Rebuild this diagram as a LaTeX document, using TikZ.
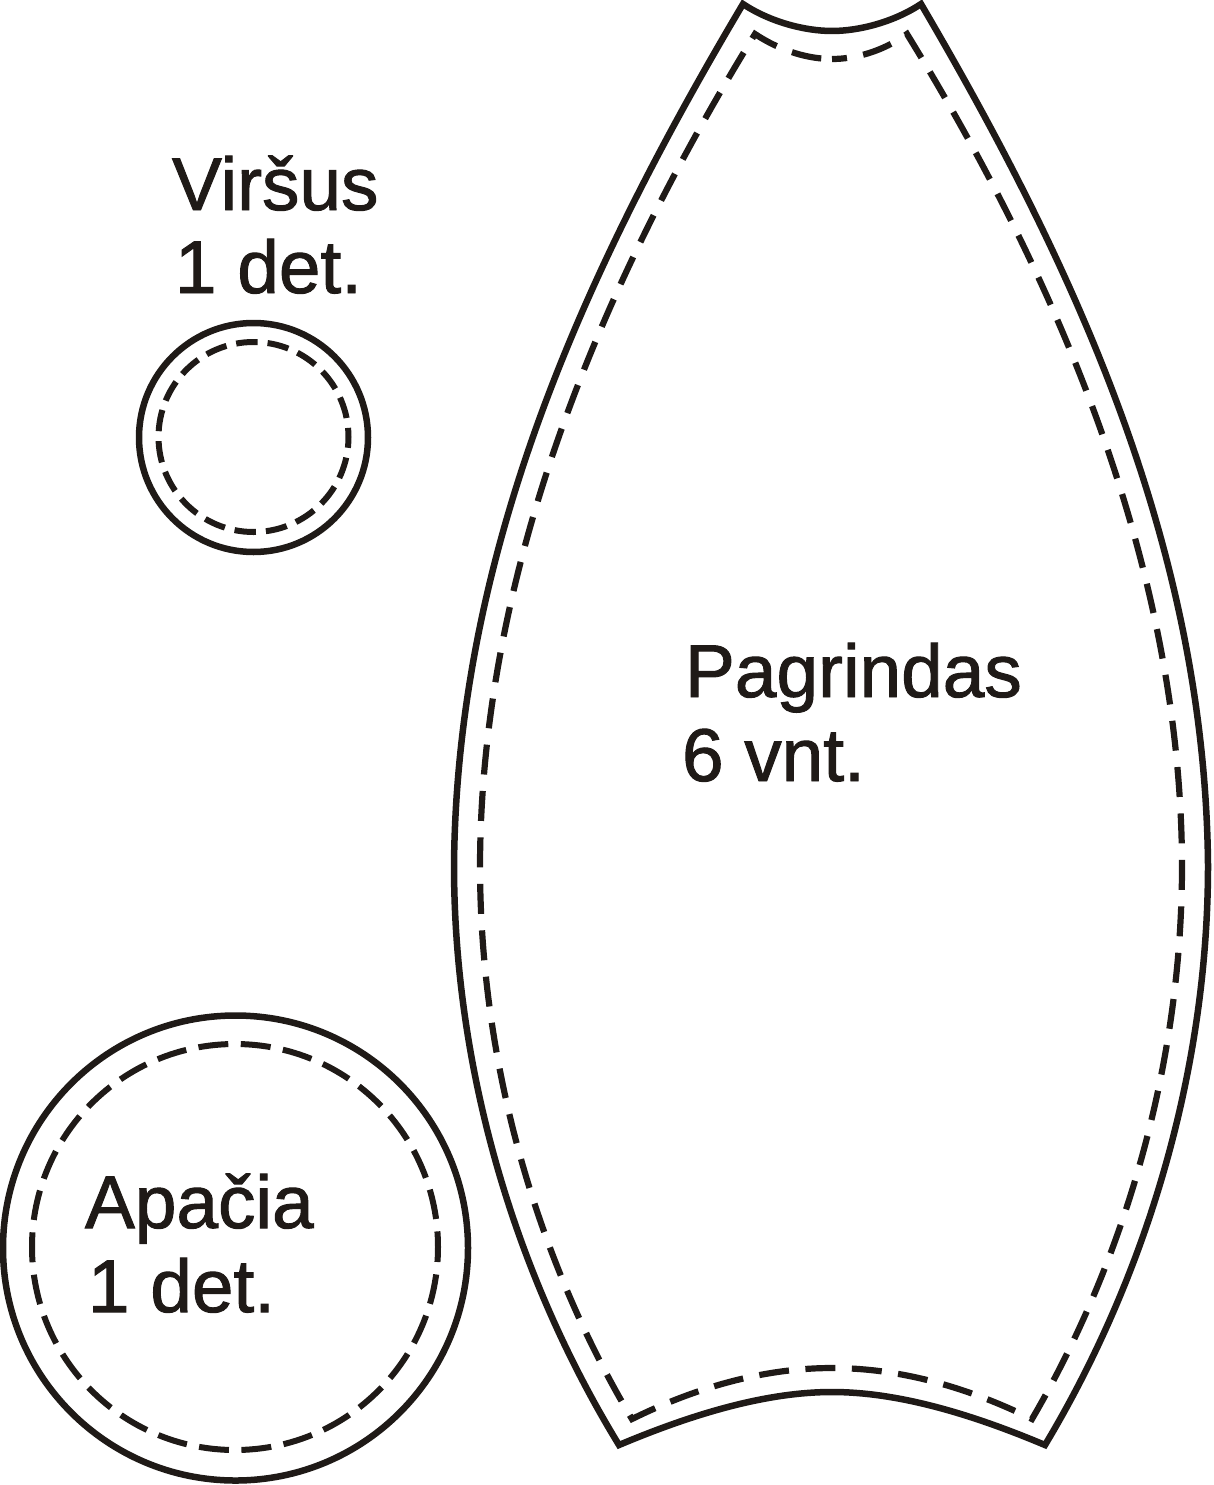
\documentclass[tikz,border=0pt]{standalone}
\usepackage{fontspec}
\setmainfont[RawFeature={embolden=1.3}]{Liberation Sans}
\definecolor{ink}{HTML}{1F1A17}
\tikzset{
 cutline/.style={draw=ink,line width=6.5pt,line join=miter},
 seamline/.style={draw=ink,line width=6.2pt,dash pattern=on 30pt off 16.5pt},
 ringseam/.style={draw=ink,line width=6pt,dash pattern=on 30pt off 12.5pt,dash phase=15pt},
 smallseam/.style={draw=ink,line width=6pt,dash pattern=on 21.5pt off 10pt,dash phase=10.7pt},
 lbl/.style={anchor=base west,inner sep=0pt,outer sep=0pt,text=ink,font=\fontsize{74.8pt}{85pt}\selectfont}
}
\begin{document}
\begin{tikzpicture}[x=1pt,y=-1pt]
\useasboundingbox (0,0) rectangle (1213,1485);
% Pagrindas
\draw[cutline] (743,4) .. controls (770,22) and (805,31) .. (832,31)
 .. controls (859,31) and (894,22) .. (921,4)
 .. controls (1077,270) and (1205,550) .. (1208,865)
 .. controls (1208,1075) and (1144,1280) .. (1045,1445)
 .. controls (962,1410) and (892,1392) .. (832,1392)
 .. controls (772,1392) and (702,1410) .. (619,1445)
 .. controls (518,1280) and (454,1075) .. (454,865)
 .. controls (457,550) and (585,270) .. cycle;
\draw[seamline,dash phase=15pt] (832,59) .. controls (854,59) and (882,52) .. (907,34)
 .. controls (1052,270) and (1181,560) .. (1182,865)
 .. controls (1182,1075) and (1119,1270) .. (1032,1419)
 .. controls (959,1383) and (892,1368) .. (832,1368)
 .. controls (772,1368) and (705,1383) .. (632,1419)
 .. controls (543,1270) and (480,1075) .. (480,865)
 .. controls (481,560) and (610,270) .. (755,34)
 .. controls (782,52) and (810,59) .. (832,59);
% Virsus
\draw[cutline] (253.5,437.5) circle[radius=114.5];
\draw[smallseam] (253.5,437) circle[radius=95];
% Apacia
\draw[cutline] (235.5,1248) circle[radius=232.5];
\draw[ringseam] (235,1247) circle[radius=203];
% Labels
\node[lbl] (virsus) at (172,210) {Viršus};
\node[lbl] (virsusn) at (175,293) {1 det.};
\node[lbl] (pagrindas) at (685,697) {Pagrindas};
\node[lbl] (pagrindasn) at (682,781) {6 vnt.};
\node[lbl] (apacia) at (85,1228) {Apačia};
\node[lbl] (apacian) at (88,1312) {1 det.};
\end{tikzpicture}
\end{document}
